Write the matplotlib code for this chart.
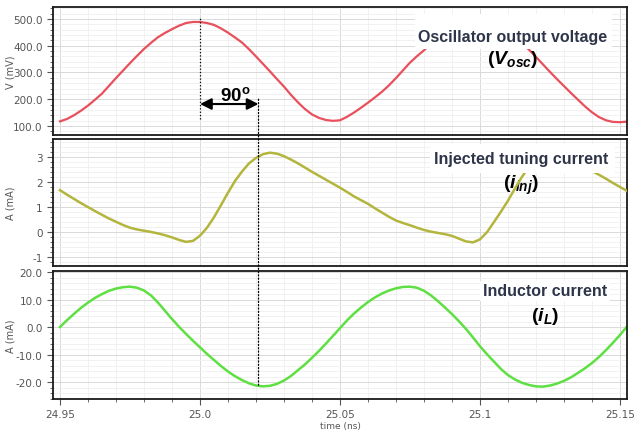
import matplotlib
matplotlib.use('Agg')
import matplotlib.pyplot as plt
from matplotlib.ticker import FixedLocator, MultipleLocator, AutoMinorLocator
from matplotlib.patches import ConnectionPatch, Rectangle
import numpy as np

plt.rcParams['mathtext.fontset'] = 'custom'
plt.rcParams['mathtext.rm'] = 'Liberation Sans'
plt.rcParams['mathtext.bf'] = 'Liberation Sans:bold'
plt.rcParams['mathtext.it'] = 'Liberation Sans:italic'
plt.rcParams['mathtext.bfit'] = 'Liberation Sans:italic:bold'

# sample times (ns), one reading every 2.5 ps
time = np.linspace(24.95, 25.155, 83)

# oscillator output voltage (mV)
v_osc = [117, 126, 140, 157, 176, 198, 221, 250, 279, 307,
         335, 362, 388, 411, 432, 448, 462, 475, 485, 489,
         489, 485, 478, 465, 449, 431, 412, 387, 360, 332,
         304, 275, 247, 216, 188, 163, 143, 130, 122, 119,
         121, 134, 150, 168, 187, 207, 228, 252, 279, 308,
         337, 361, 383, 408, 430, 447, 460, 474, 484, 489,
         489, 485, 478, 466, 450, 431, 410, 385, 358, 330,
         302, 275, 249, 223, 198, 173, 151, 133, 121, 115,
         114, 116, 119]

# injected tuning current (mA)
i_inj = [1.68, 1.50, 1.33, 1.16, 1.00, 0.84, 0.69, 0.54, 0.41, 0.28,
         0.17, 0.10, 0.05, 0.00, -0.06, -0.13, -0.22, -0.32, -0.40, -0.36,
         -0.15, 0.17, 0.59, 1.08, 1.58, 2.05, 2.43, 2.76, 2.98, 3.13,
         3.19, 3.15, 3.05, 2.91, 2.76, 2.59, 2.42, 2.26, 2.10, 1.94,
         1.78, 1.61, 1.43, 1.28, 1.13, 0.95, 0.78, 0.61, 0.46, 0.36,
         0.27, 0.17, 0.08, 0.01, -0.04, -0.09, -0.16, -0.27, -0.38, -0.42,
         -0.30, -0.01, 0.40, 0.82, 1.26, 1.75, 2.22, 2.62, 2.94, 3.12,
         3.18, 3.14, 3.05, 2.92, 2.78, 2.62, 2.45, 2.30, 2.14, 1.97,
         1.81, 1.65, 1.50]

# inductor current (mA)
i_l = [0.1, 2.6, 4.9, 7.1, 9.0, 10.7, 12.1, 13.3, 14.1, 14.6,
       14.8, 14.4, 13.4, 11.6, 9.0, 6.0, 3.0, 0.2, -2.4, -4.9,
       -7.3, -9.7, -11.9, -14.1, -16.1, -17.8, -19.2, -20.4, -21.2, -21.5,
       -21.3, -20.6, -19.4, -17.7, -15.6, -13.5, -11.1, -8.6, -5.9, -3.1,
       -0.3, 2.5, 5.0, 7.2, 9.2, 10.9, 12.3, 13.4, 14.2, 14.7,
       14.8, 14.4, 13.3, 11.6, 9.5, 7.2, 4.8, 2.2, -0.6, -3.7,
       -6.9, -9.8, -12.5, -15.2, -17.4, -19.0, -20.2, -21.0, -21.5, -21.6,
       -21.2, -20.5, -19.5, -18.2, -16.6, -14.9, -13.0, -10.8, -8.3, -5.6,
       -2.8, 0.3, 3.2]

x_ticks = [24.95, 25.0, 25.05, 25.1, 25.15]
x_ticklabels = ['24.95', '25.0', '25.05', '25.1', '25.15']
t_peak = 25.0
t_quarter = 25.0209

W, H = 637, 435
fig = plt.figure(figsize=(W / 100, H / 100), dpi=100)


def make_ax(top, bottom):
    ax = fig.add_axes([53 / W, (H - bottom) / H, 574 / W, (bottom - top) / H])
    ax.set_xlim(24.9475, 25.1525)
    ax.xaxis.set_major_locator(FixedLocator(x_ticks))
    ax.xaxis.set_minor_locator(MultipleLocator(0.01))
    ax.yaxis.set_minor_locator(AutoMinorLocator(5))
    ax.grid(which='major', color='#d9d9d9', lw=0.7)
    ax.grid(which='minor', color='#efefef', lw=0.6)
    ax.set_axisbelow(True)
    for s in ax.spines.values():
        s.set_color('#1a1a1a')
        s.set_linewidth(1.3)
    ax.tick_params(which='both', colors='#555555', labelsize=7.5, direction='out')
    ax.tick_params(which='major', length=4, width=0.8)
    ax.tick_params(which='minor', length=2, width=0.6)
    ax.yaxis.set_label_coords(-0.066, 0.5)
    return ax


def label(ax, box, x, y1, y2, title, sym):
    # white patch that hides the curve behind the title
    ax.add_patch(Rectangle((box[0], box[1]), box[2] - box[0], box[3] - box[1],
                           transform=ax.transAxes, facecolor='white',
                           edgecolor='none', zorder=5))
    ax.text(x, y1, title, transform=ax.transAxes, fontsize=11.5, fontweight='bold',
            color='#2e3549', family='Liberation Sans', ha='center', va='center', zorder=6)
    ax.text(x, y2, sym, transform=ax.transAxes, fontsize=14,
            ha='center', va='center', zorder=4)


ax1 = make_ax(8, 136)
ax2 = make_ax(140, 267)
ax3 = make_ax(272, 400)

ax1.plot(time, v_osc, color='#e8505c', lw=1.6)
ax2.plot(time, i_inj, color='#b3b53c', lw=1.8, zorder=4.5)
ax3.plot(time, i_l, color='#5ee042', lw=1.8)

ax1.set_ylim(66, 545)
ax1.set_yticks([100, 200, 300, 400, 500])
ax1.set_yticklabels(['100.0', '200.0', '300.0', '400.0', '500.0'])
ax1.set_ylabel('V (mV)', fontsize=7, color='#555555')

ax2.set_ylim(-1.37, 3.74)
ax2.set_yticks([-1, 0, 1, 2, 3])
ax2.set_yticklabels(['-1', '0', '1', '2', '3'])
ax2.set_ylabel('A (mA)', fontsize=7, color='#555555')

ax3.set_ylim(-26.1, 20.5)
ax3.set_yticks([-20, -10, 0, 10, 20])
ax3.set_yticklabels(['-20.0', '-10.0', '0.0', '10.0', '20.0'])
ax3.set_ylabel('A (mA)', fontsize=7, color='#555555')
ax3.set_xticklabels(x_ticklabels)
ax3.set_xlabel('time (ns)', fontsize=6.5, color='#555555', labelpad=1)

for ax in (ax1, ax2):
    ax.tick_params(axis='x', which='both', length=0, labelbottom=False)

label(ax1, (0.631, 0.672, 0.974, 0.945), 0.80, 0.773, 0.594,
      'Oscillator output voltage', r'$\mathbf{(}\mathbfit{V}_{\mathbfit{osc}}\mathbf{)}$')
label(ax2, (0.657, 0.732, 0.979, 0.961), 0.815, 0.843, 0.646,
      'Injected tuning current', r'$\mathbf{(}\mathbfit{i}_{\mathbfit{inj}}\mathbf{)}$')
label(ax3, (0.744, 0.766, 0.970, 0.922), 0.857, 0.846, 0.651,
      'Inductor current', r'$\mathbf{(}\mathbfit{i}_{\mathbfit{L}}\mathbf{)}$')

# 90 degree marker
ax1.vlines(t_peak, 126, 505, colors='k', linestyles=':', lw=0.9, zorder=7)
con = ConnectionPatch(xyA=(t_quarter, 200), coordsA=ax1.transData,
                      xyB=(t_quarter, -21.7), coordsB=ax3.transData,
                      color='k', linestyle=':', lw=0.9, zorder=7)
fig.add_artist(con)
ax1.annotate('', xy=(t_peak, 182), xytext=(t_quarter, 182),
             arrowprops=dict(arrowstyle='<|-|>', color='k', lw=1.5, mutation_scale=17,
                             shrinkA=0, shrinkB=0), zorder=7)
ax1.text(25.0125, 218, r'$\mathbf{90^o}$', fontsize=13.5, ha='center', va='center', zorder=7)

fig.savefig('out.png', dpi=100)
